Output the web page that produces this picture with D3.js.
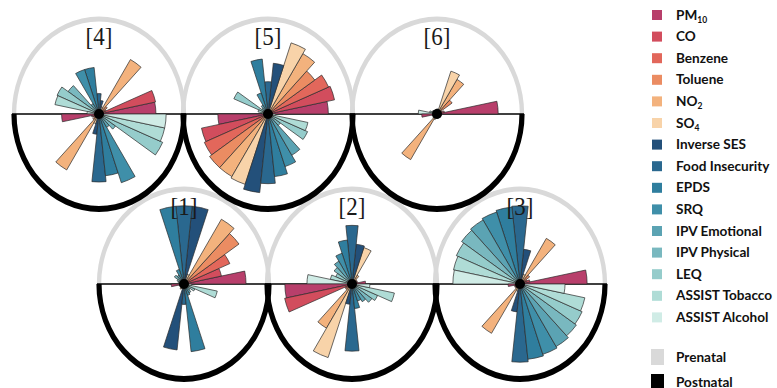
<!DOCTYPE html>
<html><head><meta charset="utf-8">
<script src="https://cdn.jsdelivr.net/npm/d3@7"></script>
<style>html,body{margin:0;padding:0;background:#fff;} svg{display:block;}</style>
</head><body><svg id="c" width="777" height="388"></svg>
<script>
// ---------- data ----------
const variables = ["PM10","CO","Benzene","Toluene","NO2","SO4","Inverse SES","Food Insecurity","EPDS","SRQ","IPV Emotional","IPV Physical","LEQ","ASSIST Tobacco","ASSIST Alcohol"];
const colors = ["#b83f6b","#d24d5d","#e2675b","#eb8c62","#f3b27d","#f8d3a9","#23507a","#2a688f","#2f7e9e","#3f8fa9","#5ba3b3","#79b8bf","#95cccb","#afdcd6","#d0ece6"];
const periods = ["Prenatal","Postnatal"];
const periodColors = ["#d9d9d9","#000000"];
const panelLabels = ["[1]","[2]","[3]","[4]","[5]","[6]"];

// values as fraction of the circle radius, in variable order
const prenatal1  = [0.73,0.45,0.59,0.80,0.88,0.12,0.92,0.92,0.92,0.18,0.12,0.14,0.09,0.07,0.06];
const postnatal1 = [0.15,0.06,0.05,0.05,0.07,0.06,0.78,0.24,0.80,0.14,0.12,0.09,0.14,0.40,0.09];
const prenatal2  = [0.16,0.07,0.06,0.07,0.12,0.45,0.47,0.69,0.52,0.38,0.31,0.26,0.21,0.26,0.53];
const postnatal2 = [0.79,0.81,0.09,0.09,0.60,0.91,0.24,0.79,0.29,0.21,0.24,0.29,0.33,0.51,0.21];
const prenatal3  = [0.79,0.12,0.09,0.14,0.62,0.12,0.41,0.92,0.91,0.89,0.87,0.85,0.82,0.80,0.79];
const postnatal3 = [0.14,0.07,0.06,0.07,0.67,0.09,0.33,0.92,0.89,0.87,0.85,0.82,0.80,0.78,0.53];
const prenatal4  = [0.67,0.68,0.09,0.12,0.74,0.09,0.16,0.24,0.55,0.55,0.14,0.45,0.54,0.53,0.14];
const postnatal4 = [0.44,0.09,0.07,0.09,0.76,0.12,0.24,0.80,0.73,0.85,0.18,0.24,0.82,0.79,0.79];
const prenatal5  = [0.71,0.80,0.78,0.68,0.82,0.88,0.60,0.38,0.65,0.26,0.12,0.09,0.44,0.12,0.07];
const postnatal5 = [0.59,0.80,0.82,0.85,0.85,0.87,0.93,0.82,0.74,0.65,0.56,0.18,0.51,0.48,0.09];
const prenatal6  = [0.72,0.09,0.06,0.22,0.47,0.53,0.06,0.06,0.05,0.05,0.05,0.06,0.06,0.09,0.22];
const postnatal6 = [0.18,0.06,0.05,0.06,0.62,0.07,0.05,0.05,0.05,0.05,0.05,0.05,0.05,0.05,0.05];

const panelData = [
  [prenatal1, postnatal1],[prenatal2, postnatal2],[prenatal3, postnatal3],
  [prenatal4, postnatal4],[prenatal5, postnatal5],[prenatal6, postnatal6]
];

// ---------- layout ----------
const svg = d3.select("#c");
const R = 85, YS = 95/85;
const panelPos = [
  {cx:184, cy:284},{cx:352, cy:284},{cx:520, cy:284},
  {cx:99,  cy:114},{cx:268, cy:114},{cx:437, cy:114}
];
const rScale = d3.scaleLinear().domain([0,1]).range([0,R]);
const nSlots = variables.length * 2;
const angScale = d3.scaleLinear().domain([0,nSlots]).range([0,360]); // degrees CCW from east
const toD3 = deg => (90 - deg) * Math.PI/180;
const arc = d3.arc();

// rings
panelPos.forEach((p,i) => {
  const g = svg.append("g").attr("transform", `translate(${p.cx},${p.cy}) scale(1,${YS})`);
  g.append("path").attr("d", arc({innerRadius:R-2.2, outerRadius:R+2.2, startAngle:-Math.PI/2, endAngle:Math.PI/2}))
    .attr("fill", periodColors[0]);
  g.append("path").attr("d", arc({innerRadius:R-2.6, outerRadius:R+2.6, startAngle:Math.PI/2, endAngle:3*Math.PI/2}))
    .attr("fill", periodColors[1]);
});
// diameters
panelPos.forEach(p => {
  svg.append("line").attr("x1", p.cx-R-2).attr("x2", p.cx+R+2).attr("y1", p.cy).attr("y2", p.cy)
    .attr("stroke","#000").attr("stroke-width",1.6);
});
// wedges
panelPos.forEach((p,i) => {
  const g = svg.append("g").attr("transform", `translate(${p.cx},${p.cy})`);
  const rows = [];
  panelData[i].forEach((vals, pi) => {
    vals.forEach((v, vi) => rows.push({slot: pi*variables.length + vi, v, vi}));
  });
  g.selectAll("path.w").data(rows).join("path").attr("class","w")
    .attr("d", d => arc({innerRadius:0, outerRadius:rScale(d.v),
      startAngle: toD3(angScale(d.slot+1)), endAngle: toD3(angScale(d.slot))}))
    .attr("fill", d => colors[d.vi])
    .attr("stroke", "#2b2b2b").attr("stroke-width", 0.7).attr("stroke-linejoin","round");
  g.append("circle").attr("r",5).attr("fill","#000");
  g.append("text").text(panelLabels[i])
    .attr("transform", `translate(0,${-69}) scale(1,${YS})`)
    .attr("text-anchor","middle").attr("font-family","'Liberation Serif', 'DejaVu Serif', serif")
    .attr("font-size",23).attr("fill","#1a1a1a");
});

// legend
const lg = svg.append("g");
const ly = d3.scaleLinear().domain([0,1]).range([15, 36.6]);
variables.forEach((name,i) => {
  const y = ly(i);
  lg.append("rect").attr("x",652).attr("y",y-5).attr("width",10).attr("height",10).attr("fill",colors[i]);
  const t = lg.append("text").attr("x",676).attr("y",y+4.5)
    .attr("font-family","Lato, 'Open Sans', sans-serif").attr("font-weight","bold")
    .attr("font-size",13.6).attr("fill","#111");
  const m = name.match(/^([A-Za-z]+)(\d+)$/);
  if (m) {
    t.append("tspan").text(m[1]);
    t.append("tspan").text(m[2]).attr("font-size",8.5).attr("dy",3);
  } else t.text(name);
});
periods.forEach((name,i) => {
  const y = 357 + i*25;
  lg.append("rect").attr("x",651).attr("y",y-8).attr("width",13).attr("height",16).attr("fill",periodColors[i]);
  lg.append("text").attr("x",676).attr("y",y+4.5).text(name)
    .attr("font-family","Lato, 'Open Sans', sans-serif").attr("font-weight","bold")
    .attr("font-size",13.6).attr("fill","#111");
});
</script></body></html>
